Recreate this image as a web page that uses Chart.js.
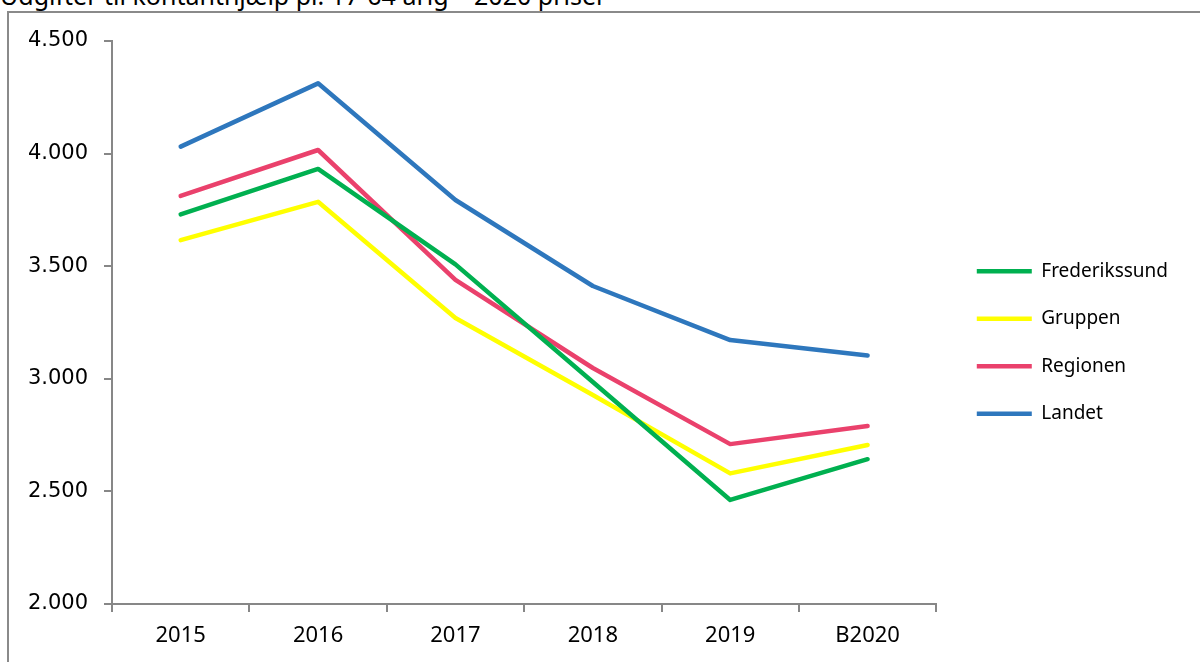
<!DOCTYPE html>
<html>
<head>
<meta charset="utf-8">
<script src="https://cdn.jsdelivr.net/npm/chart.js@4"></script>
<style>
html,body{margin:0;padding:0;background:#fff;overflow:hidden;}
#wrap{position:relative;width:1200px;height:662px;overflow:hidden;}
#title{position:absolute;left:0;top:-17px;font-family:"Noto Sans",sans-serif;font-size:25px;line-height:25px;color:#000;white-space:nowrap;}
#frame{position:absolute;left:7px;top:11px;width:1200px;height:700px;border:2px solid #8a8a8a;box-sizing:border-box;}
#c{position:absolute;left:0;top:0;}
</style>
</head>
<body>
<div id="wrap">
<div id="title">Udgifter til kontanthjælp pr. 17-64 årig – 2020 priser</div>
<div id="frame"></div>
<canvas id="c" width="1200" height="662"></canvas>
</div>
<script>
const categories = ["2015", "2016", "2017", "2018", "2019", "B2020"];
const frederikssund = [3730, 3932, 3508, 2986, 2462, 2643];
const gruppen = [3616, 3786, 3270, 2928, 2580, 2706];
const regionen = [3812, 4016, 3439, 3048, 2710, 2790];
const landet = [4031, 4312, 3794, 3412, 3172, 3103];
const yTicks = [2000, 2500, 3000, 3500, 4000, 4500];

const seriesNames = ["Frederikssund", "Gruppen", "Regionen", "Landet"];
const seriesColors = ["#00B050", "#FFFF00", "#EA416C", "#2E77BD"];
const seriesData = [frederikssund, gruppen, regionen, landet];

const axisColor = "#878787";
const fmt = v => String(v).replace(/\B(?=(\d{3})+(?!\d))/g, ".");

const legendShift = {
  id: "legendShift",
  afterLayout(chart) {
    const lg = chart.legend;
    if (!lg) return;
    lg.left += 12; lg.right += 12;
    lg.top -= 9; lg.bottom -= 9;
  }
};

new Chart(document.getElementById("c"), {
  type: "line",
  data: {
    labels: categories,
    datasets: seriesData.map((d, i) => ({
      label: seriesNames[i],
      data: d,
      borderColor: seriesColors[i],
      backgroundColor: seriesColors[i],
      borderWidth: 4.5,
      borderCapStyle: "round",
      borderJoinStyle: "round",
      pointRadius: 0,
      tension: 0,
      fill: false
    }))
  },
  plugins: [legendShift],
  options: {
    responsive: false,
    animation: false,
    layout: { padding: { left: 0, top: 41, right: 34, bottom: 0 } },
    plugins: {
      tooltip: { enabled: false },
      title: { display: false },
      legend: {
        position: "right",
        align: "center",
        labels: {
          usePointStyle: true,
          pointStyle: "line",
          pointStyleWidth: 55,
          boxWidth: 55,
          padding: 28.5,
          color: "#000",
          font: { family: "Noto Sans", size: 19 }
        }
      }
    },
    scales: {
      x: {
        offset: true,
        grid: { display: true, offset: true, drawOnChartArea: false, drawTicks: true, tickLength: 8, color: axisColor, lineWidth: 2 },
        border: { display: true, color: axisColor, width: 2 },
        ticks: { color: "#000", padding: 11, font: { family: "Noto Sans", size: 22 }, maxRotation: 0 },
        afterFit: s => { s.height = 58; }
      },
      y: {
        min: 2000,
        max: 4500,
        afterBuildTicks: s => { s.ticks = yTicks.map(v => ({ value: v })); },
        grid: { display: true, drawOnChartArea: false, drawTicks: true, tickLength: 8, color: axisColor, lineWidth: 2 },
        border: { display: true, color: axisColor, width: 2 },
        ticks: { color: "#000", padding: 16, font: { family: "DejaVu Sans", size: 21 }, callback: v => fmt(v) },
        afterFit: s => { s.width = 112; }
      }
    }
  }
});
</script>
</body>
</html>
